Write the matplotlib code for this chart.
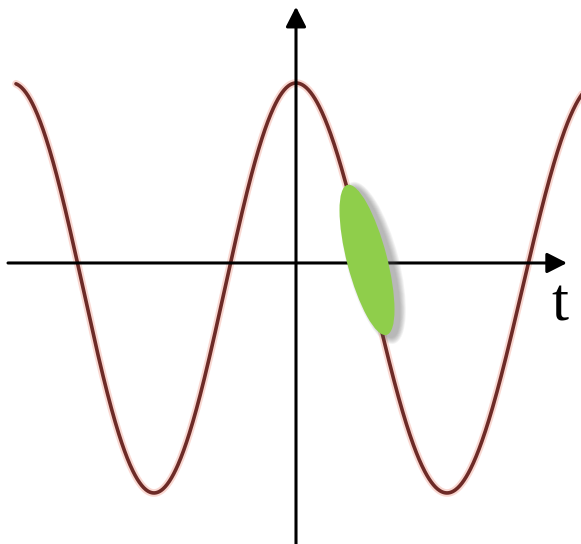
import numpy as np
import matplotlib.pyplot as plt
from matplotlib.patches import Ellipse
from matplotlib import transforms

# curve: y = amplitude*cos(pi*x/half_period) + offset
# the drawing is slightly uneven: left and right halves have different widths
amplitude = 1.0
offset = -0.122
half_period_left = 142
half_period_right = 151
x_start, x_end = -280, 290

# axis extents (data units)
x_axis = (-288, 271)
y_axis = (-1.38, 1.25)

# green ellipse: centre in data units, size in pixels
ell_center = (71, 0.015)
ell_len, ell_wid, ell_angle = 155, 40, 104.6

label_pos = (264, -0.21)

fig = plt.figure(figsize=(5.81, 5.44), dpi=100)
ax = fig.add_axes([0, 0, 1, 1])
ax.set_xlim(-296, 285)
ax.set_ylim(-1.371, 1.283)
ax.axis('off')

x = np.linspace(x_start, x_end, 800)
hp = np.where(x < 0, half_period_left, half_period_right)
y = amplitude*np.cos(np.pi*x/hp) + offset
ax.plot(x, y, color='#f9d8d2', lw=5.5, solid_capstyle='round', zorder=1)
ax.plot(x, y, color='#6d2b27', lw=2.6, solid_capstyle='round', zorder=2)

arrow = dict(arrowstyle='-|>,head_length=0.55,head_width=0.28', lw=2.2,
             color='black', mutation_scale=22, shrinkA=0, shrinkB=0)
ax.annotate('', xy=(x_axis[1], 0), xytext=(x_axis[0], 0), arrowprops=arrow, zorder=3)
ax.annotate('', xy=(0, y_axis[1]), xytext=(0, y_axis[0]), arrowprops=arrow, zorder=3)

# soft shadow, then the ellipse
centre = transforms.ScaledTranslation(ell_center[0], ell_center[1], ax.transData)
for i in range(7):
    sh = Ellipse((0, 0), ell_len + 2*i, ell_wid + 2*i, angle=ell_angle,
                 color='#555555', alpha=0.07, lw=0, zorder=4)
    sh.set_transform(transforms.Affine2D().translate(6, -3) + centre)
    ax.add_patch(sh)

el = Ellipse((0, 0), ell_len, ell_wid, angle=ell_angle, color='#8fce4b', lw=0, zorder=5)
el.set_transform(centre)
ax.add_patch(el)

ax.text(label_pos[0], label_pos[1], 't', fontsize=44, family='Liberation Serif',
        ha='center', va='center')

fig.savefig('out.png', dpi=100)
